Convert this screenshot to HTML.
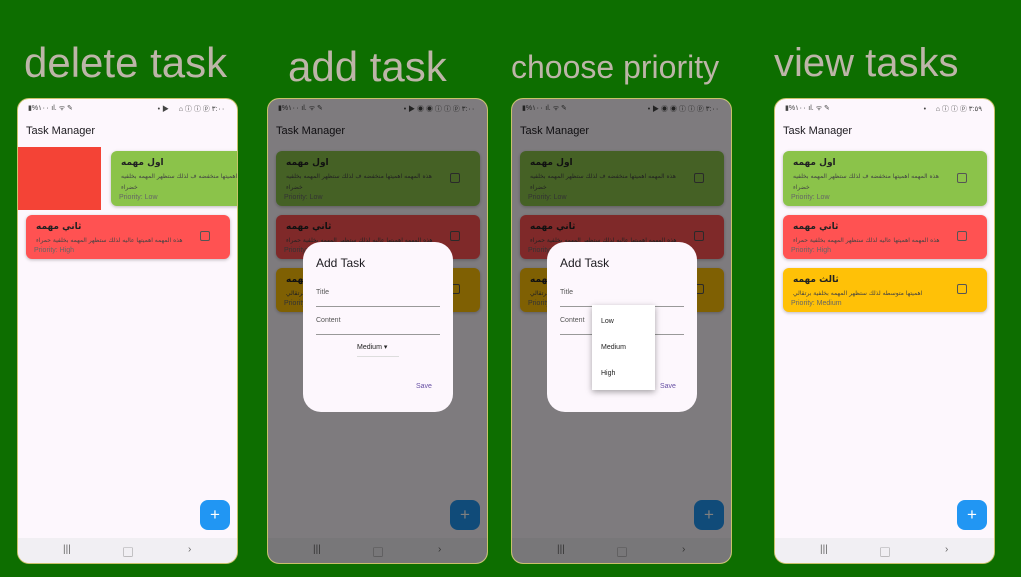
<!DOCTYPE html>
<html><head><meta charset="utf-8"><style>
*{margin:0;padding:0;box-sizing:border-box}
body{width:1021px;height:577px;background:#0d6e00;position:relative;overflow:hidden;font-family:"Liberation Sans","Noto Sans CJK SC",sans-serif}
.h{position:absolute;color:#bdb5a8;font-family:"Liberation Sans",sans-serif;white-space:nowrap}
.ph{position:absolute;top:98px;width:221px;height:466px;background:#fdf7fd;border:1px solid #c9c26a;border-radius:12px;overflow:hidden}
.sb{position:absolute;top:5px;left:10px;font-size:7px;color:#444}
.sbr{position:absolute;top:5px;right:12px;font-size:7px;color:#444}
.tt{position:absolute;top:26px;left:8px;font-size:11px;color:#1d1b20}
.card{position:absolute;left:8px;width:204px;border-radius:6px;box-shadow:0 1px 3px rgba(0,0,0,.25)}
.card b{position:absolute;left:10px;top:7px;font-size:9px;color:#222;direction:rtl;font-family:"DejaVu Sans",sans-serif}
.card i{position:absolute;left:10px;top:20px;font-size:6px;font-style:normal;color:#444;direction:rtl;width:150px;text-align:left;line-height:11px;font-family:"DejaVu Sans",sans-serif}
.card s{position:absolute;left:8px;bottom:5px;font-size:7px;text-decoration:none;color:#666}
.cb{position:absolute;right:20px;width:10px;height:10px;border:1.5px solid #555;border-radius:2px}
.fab{position:absolute;left:182px;top:401px;width:30px;height:30px;border-radius:8px;background:#2196f3;color:#fff;text-align:center;line-height:29px;font-size:17px}
.nav{position:absolute;left:0;bottom:0;width:100%;height:25px;background:#f1eff3;color:#666;font-size:10px}
.nav span{position:absolute;top:6px}
.dim{position:absolute;left:0;top:0;width:100%;height:100%;background:rgba(0,0,0,.5)}
.dlg{position:absolute;left:35px;top:143px;width:150px;height:170px;background:#fdf7fd;border-radius:18px}
.dlg .t{position:absolute;left:13px;top:14px;font-size:12px;color:#1d1b20}
.dlg .l{position:absolute;left:13px;font-size:7px;color:#555}
.dlg .ln{position:absolute;left:13px;width:124px;height:1px;background:#999}
.dlg .sv{position:absolute;left:113px;top:141px;font-size:7px;color:#6750a4}
</style></head><body>
<div class="h" style="left:24px;top:39px;font-size:42px">delete task</div>
<div class="h" style="left:288px;top:43px;font-size:42px">add task</div>
<div class="h" style="left:511px;top:49px;font-size:32px">choose priority</div>
<div class="h" style="left:774px;top:41px;font-size:40px">view tasks</div>

<!-- phone 1 -->
<div class="ph" style="left:17px">
<div class="sb">▮%١٠٠ ıl. ᯤ ✎</div><div class="sbr">• ▶ &nbsp;&nbsp;&nbsp; ⌂ ⓘ ⓘ ⓟ ٣:٠٠</div>
<div class="tt">Task Manager</div>
<div style="position:absolute;left:0;top:48px;width:83px;height:63px;background:#f44336"></div>
<div class="card" style="left:93px;top:52px;height:55px;width:140px;background:#8bc34a;border-radius:6px 0 0 6px"><b>اول مهمه</b><i style="width:130px">اهميتها منخفضه ف لذلك ستظهر المهمه بخلفيه خضراء</i><s>Priority: Low</s></div>
<div class="card" style="top:116px;height:44px;background:#ff5252"><b>ثاني مهمه</b><i>هذه المهمه اهميتها عاليه لذلك ستظهر المهمه بخلفية حمراء</i><s>Priority: High</s><div class="cb" style="top:16px"></div></div>
<div class="fab">+</div>
<div class="nav"><span style="left:45px">|||</span><span style="left:105px">▢</span><span style="left:170px">›</span></div>
</div>

<div class="ph" style="left:267px">
<div class="sb">▮%١٠٠ ıl. ᯤ ✎</div><div class="sbr">• ▶ ◉ ◉ ⓘ ⓘ ⓟ ٣:٠٠</div>
<div class="tt">Task Manager</div>
<div class="card" style="top:52px;height:55px;background:#8bc34a"><b>اول مهمه</b><i>هذه المهمه اهميتها منخفضه ف لذلك ستظهر المهمه بخلفيه خضراء</i><s>Priority: Low</s><div class="cb" style="top:22px"></div></div>
<div class="card" style="top:116px;height:44px;background:#ff5252"><b>ثاني مهمه</b><i>هذه المهمه اهميتها عاليه لذلك ستظهر المهمه بخلفية حمراء</i><s>Priority: High</s><div class="cb" style="top:16px"></div></div>
<div class="card" style="top:169px;height:44px;background:#ffc107"><b>ثالث مهمه</b><i>اهميتها متوسطه لذلك ستظهر المهمه بخلفية برتقالي</i><s>Priority: Medium</s><div class="cb" style="top:16px"></div></div>
<div class="fab">+</div>
<div class="nav"><span style="left:45px">|||</span><span style="left:105px">▢</span><span style="left:170px">›</span></div>
<div class="dim"></div>
<div class="dlg"><div class="t">Add Task</div><div class="l" style="top:47px">Title</div><div class="ln" style="top:64px"></div><div class="l" style="top:75px">Content</div><div class="ln" style="top:92px"></div>
<div style="position:absolute;left:54px;top:101px;font-size:7px;color:#222">Medium ▾</div><div style="position:absolute;left:54px;top:114px;width:42px;height:1px;background:#ddd"></div>
<div class="sv">Save</div></div>
</div>

<div class="ph" style="left:511px">
<div class="sb">▮%١٠٠ ıl. ᯤ ✎</div><div class="sbr">• ▶ ◉ ◉ ⓘ ⓘ ⓟ ٣:٠٠</div>
<div class="tt">Task Manager</div>
<div class="card" style="top:52px;height:55px;background:#8bc34a"><b>اول مهمه</b><i>هذه المهمه اهميتها منخفضه ف لذلك ستظهر المهمه بخلفيه خضراء</i><s>Priority: Low</s><div class="cb" style="top:22px"></div></div>
<div class="card" style="top:116px;height:44px;background:#ff5252"><b>ثاني مهمه</b><i>هذه المهمه اهميتها عاليه لذلك ستظهر المهمه بخلفية حمراء</i><s>Priority: High</s><div class="cb" style="top:16px"></div></div>
<div class="card" style="top:169px;height:44px;background:#ffc107"><b>ثالث مهمه</b><i>اهميتها متوسطه لذلك ستظهر المهمه بخلفية برتقالي</i><s>Priority: Medium</s><div class="cb" style="top:16px"></div></div>
<div class="fab">+</div>
<div class="nav"><span style="left:45px">|||</span><span style="left:105px">▢</span><span style="left:170px">›</span></div>
<div class="dim"></div>
<div class="dlg"><div class="t">Add Task</div><div class="l" style="top:47px">Title</div><div class="ln" style="top:64px"></div><div class="l" style="top:75px">Content</div><div class="ln" style="top:92px"></div>
<div class="sv">Save</div>
<div style="position:absolute;left:45px;top:63px;width:63px;height:85px;background:#fff;box-shadow:0 2px 6px rgba(0,0,0,.35);font-size:7px;color:#222">
<div style="position:absolute;left:9px;top:13px">Low</div><div style="position:absolute;left:9px;top:39px">Medium</div><div style="position:absolute;left:9px;top:65px">High</div></div></div>
</div>

<div class="ph" style="left:774px">
<div class="sb">▮%١٠٠ ıl. ᯤ ✎</div><div class="sbr">• &nbsp;&nbsp;&nbsp; ⌂ ⓘ ⓘ ⓟ ٣:٥٩</div>
<div class="tt">Task Manager</div>
<div class="card" style="top:52px;height:55px;background:#8bc34a"><b>اول مهمه</b><i>هذه المهمه اهميتها منخفضه ف لذلك ستظهر المهمه بخلفيه خضراء</i><s>Priority: Low</s><div class="cb" style="top:22px"></div></div>
<div class="card" style="top:116px;height:44px;background:#ff5252"><b>ثاني مهمه</b><i>هذه المهمه اهميتها عاليه لذلك ستظهر المهمه بخلفية حمراء</i><s>Priority: High</s><div class="cb" style="top:16px"></div></div>
<div class="card" style="top:169px;height:44px;background:#ffc107"><b>ثالث مهمه</b><i>اهميتها متوسطه لذلك ستظهر المهمه بخلفية برتقالي</i><s>Priority: Medium</s><div class="cb" style="top:16px"></div></div>
<div class="fab">+</div>
<div class="nav"><span style="left:45px">|||</span><span style="left:105px">▢</span><span style="left:170px">›</span></div>
</div>
</body></html>
